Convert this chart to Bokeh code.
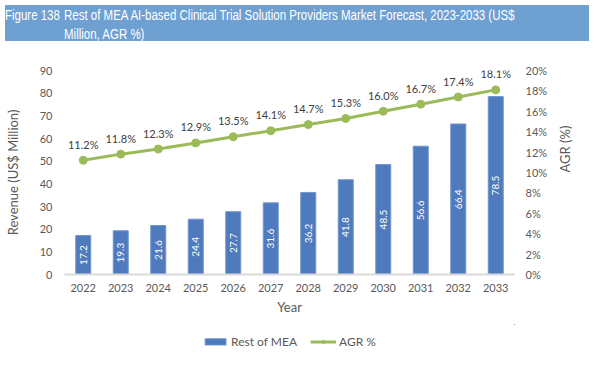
from math import pi
from bokeh.plotting import figure
from bokeh.models import (ColumnDataSource, Range1d, LinearAxis, FixedTicker,
                          PrintfTickFormatter, Legend, LegendItem, Div, FactorRange)
from bokeh.layouts import column
from bokeh.core.properties import value
from bokeh.embed import file_html
from bokeh.resources import INLINE

years = ["2022", "2023", "2024", "2025", "2026", "2027", "2028", "2029", "2030", "2031", "2032", "2033"]
revenue = [17.2, 19.3, 21.6, 24.4, 27.7, 31.6, 36.2, 41.8, 48.5, 56.6, 66.4, 78.5]
agr = [11.2, 11.8, 12.3, 12.9, 13.5, 14.1, 14.7, 15.3, 16.0, 16.7, 17.4, 18.1]
left_ticks = [0, 10, 20, 30, 40, 50, 60, 70, 80, 90]
right_ticks = [0, 2, 4, 6, 8, 10, 12, 14, 16, 18, 20]

FONT = "Lato"
GRAY = "#595959"
BAR = "#4f7bbe"
BAR_EDGE = "#6f95cc"
GREEN = "#9bbb59"

src = ColumnDataSource(dict(
    year=years,
    rev=revenue,
    half=[r / 2 for r in revenue],
    rev_lbl=["%.1f" % r for r in revenue],
    agr=agr,
    agr_lbl=["%.1f%%" % a for a in agr],
))

banner = Div(
    width=584, height=36,
    text=(
        '<div style="width:584px; height:36px; overflow:hidden; position:relative;">'
        '<div style="position:absolute; top:1px; left:0px; width:700px; color:white; '
        'font-family:\'Liberation Sans\', Arial, sans-serif; '
        'font-size:14px; line-height:19px; white-space:nowrap; '
        'transform:scaleX(0.82); transform-origin:0 0;">'
        '<div style="display:flex;"><div style="width:72px;">Figure 138</div>'
        '<div>Rest of MEA AI-based Clinical Trial Solution Providers Market Forecast, 2023-2033 (US$<br>'
        'Million, AGR %)</div></div></div></div>'
    ),
    styles={"background-color": "#6fa0d2", "overflow": "hidden"},
)

p = figure(width=584, height=278, x_range=FactorRange(*years),
           y_range=Range1d(0, 90), output_backend="svg", toolbar_location=None,
           min_border_left=64, min_border_right=67, min_border_top=24,
           min_border_bottom=50)
p.x_range.range_padding = 0
p.outline_line_color = None
p.xgrid.grid_line_color = None
p.ygrid.grid_line_color = None
p.background_fill_color = "white"
p.border_fill_color = "white"

p.extra_y_ranges = {"agr": Range1d(0, 20)}

bars = p.vbar(x="year", top="rev", width=0.4, source=src,
              fill_color=BAR, line_color=BAR_EDGE, line_width=1)
p.text(x="year", y="half", text="rev_lbl", source=src, angle=pi / 2,
       text_align="center", text_baseline="middle", text_color="white",
       text_font=value(FONT), text_font_size="10px")

line = p.line(x="year", y="agr", source=src, y_range_name="agr",
              line_color=GREEN, line_width=3)
pts = p.scatter(x="year", y="agr", source=src, y_range_name="agr",
                size=8, fill_color=GREEN, line_color=GREEN)
p.text(x="year", y="agr", text="agr_lbl", source=src, y_range_name="agr",
       y_offset=-16, text_align="center", text_baseline="middle",
       text_color="#404040", text_font=value(FONT), text_font_size="11px")

# left axis
yax = p.yaxis[0]
yax.ticker = FixedTicker(ticks=left_ticks)
yax.axis_label = "Revenue (US$ Million)"
# right axis
rax = LinearAxis(y_range_name="agr", ticker=FixedTicker(ticks=right_ticks),
                 formatter=PrintfTickFormatter(format="%d%%"),
                 axis_label="AGR (%)")
p.add_layout(rax, "right")
if "axis_label_orientation" in rax.properties():
    rax.axis_label_orientation = pi / 2

for ax in [yax, rax]:
    ax.axis_line_color = None
    ax.major_tick_line_color = None
    ax.minor_tick_line_color = None
    ax.major_tick_out = 0
    ax.major_tick_in = 0
    ax.minor_tick_out = 0
    ax.minor_tick_in = 0
    ax.major_label_text_font = FONT
    ax.major_label_text_font_size = "11px"
    ax.major_label_text_color = GRAY
    ax.axis_label_text_font = FONT
    ax.axis_label_text_font_size = "13px"
    ax.axis_label_text_font_style = "normal"
    ax.axis_label_text_color = GRAY
yax.major_label_standoff = 12
rax.major_label_standoff = 11
yax.axis_label_standoff = 16
rax.axis_label_standoff = 15

xax = p.xaxis[0]
xax.axis_label = "Year"
xax.axis_line_color = "#d9d9d9"
xax.axis_line_width = 2
xax.major_tick_line_color = None
xax.minor_tick_line_color = None
xax.major_tick_out = 0
xax.major_tick_in = 0
xax.minor_tick_out = 0
xax.minor_tick_in = 0
xax.major_label_text_font = FONT
xax.major_label_text_font_size = "11px"
xax.major_label_text_color = GRAY
xax.major_label_standoff = 9
xax.axis_label_text_font = FONT
xax.axis_label_text_font_size = "13px"
xax.axis_label_text_font_style = "normal"
xax.axis_label_text_color = GRAY
xax.axis_label_standoff = 4

# legend strip (separate figure below the chart); its renderers lie outside
# the visible range so only the legend itself is seen
lp = figure(width=584, height=34, x_range=Range1d(-1, 0), y_range=Range1d(-1, 0),
            x_axis_type=None, y_axis_type=None, output_backend="svg",
            toolbar_location=None, min_border=0)
lp.grid.visible = False
lp.outline_line_color = None
lp.border_fill_color = "white"
lg_bar = lp.vbar(x="rev", top="rev", bottom="rev", width=0.4, source=src,
                 fill_color=BAR, line_color=BAR_EDGE)
lg_line = lp.line(x="rev", y="agr", source=src, line_color=GREEN, line_width=3)
lg_pt = lp.scatter(x="rev", y="agr", source=src, size=8,
                   fill_color=GREEN, line_color=GREEN)

legend = Legend(items=[LegendItem(label="Rest of MEA", renderers=[lg_bar]),
                       LegendItem(label="AGR %", renderers=[lg_line, lg_pt])],
                orientation="horizontal", location="center",
                glyph_width=26, glyph_height=8, label_standoff=3, spacing=13,
                padding=0, margin=0, border_line_color=None,
                background_fill_alpha=0,
                label_text_font=FONT, label_text_font_size="12px",
                label_text_color=GRAY)
lp.add_layout(legend)

layout = column(banner, p, lp, spacing=0)
open("out.html", "w").write(file_html(layout, INLINE))
